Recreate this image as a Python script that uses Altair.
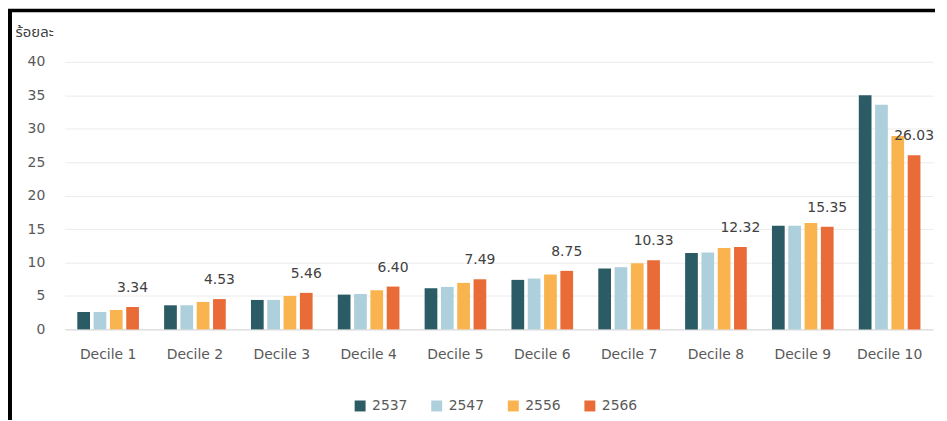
import altair as alt
import pandas as pd

deciles = ["Decile 1", "Decile 2", "Decile 3", "Decile 4", "Decile 5",
           "Decile 6", "Decile 7", "Decile 8", "Decile 9", "Decile 10"]
years = ["2537", "2547", "2556", "2566"]
v2537 = [2.6, 3.6, 4.4, 5.2, 6.15, 7.4, 9.1, 11.4, 15.5, 35.0]
v2547 = [2.6, 3.6, 4.4, 5.3, 6.35, 7.6, 9.3, 11.5, 15.5, 33.6]
v2556 = [2.9, 4.1, 5.0, 5.85, 6.95, 8.2, 9.9, 12.15, 15.9, 28.9]
v2566 = [3.34, 4.53, 5.46, 6.40, 7.49, 8.75, 10.33, 12.32, 15.35, 26.03]
colors = ["#2b5b64", "#aecfdc", "#f9b44f", "#e96b37"]

rows = []
for y, vals in zip(years, [v2537, v2547, v2556, v2566]):
    for d, v in zip(deciles, vals):
        rows.append({"decile": d, "year": y, "value": v,
                     "label": f"{v:.2f}" if y == "2566" else ""})
df = pd.DataFrame(rows)

FONT = "DejaVu Sans"
THAI = "Tahoma, 'Noto Sans Thai', 'Noto Sans Thai UI', Loma, Garuda, 'Noto Sans', sans-serif"

x_enc = alt.X("decile:N", sort=deciles, title=None,
              scale=alt.Scale(paddingInner=0.29, paddingOuter=0.145),
              axis=alt.Axis(labelAngle=0, ticks=False, tickSize=0, labelPadding=18,
                            labelFont=FONT, labelFontSize=14, labelColor="#595959",
                            domainColor="#d9d9d9", grid=False))
xo_enc = alt.XOffset("year:N", sort=years,
                     scale=alt.Scale(domain=years, paddingInner=0.22, paddingOuter=0))
y_enc = alt.Y("value:Q",
              scale=alt.Scale(domain=[0, 40], nice=False),
              axis=alt.Axis(values=[0, 5, 10, 15, 20, 25, 30, 35, 40],
                            domain=False, ticks=False, labelPadding=20,
                            labelFont=FONT, labelFontSize=14, labelColor="#595959",
                            gridColor="#ebebeb",
                            title="ร้อยละ", titleAngle=0, titleAlign="left",
                            titleBaseline="middle", titleX=-50, titleY=-30,
                            titleFont=THAI, titleFontSize=15, titleFontWeight="normal",
                            titleColor="#404040"))

bars = alt.Chart(df).mark_bar().encode(
    x=x_enc, xOffset=xo_enc, y=y_enc,
    color=alt.Color("year:N", sort=years,
                    scale=alt.Scale(domain=years, range=colors),
                    legend=alt.Legend(title=None, orient="none", direction="horizontal",
                                      legendX=290, legendY=339,
                                      symbolType="square", symbolSize=121,
                                      symbolStrokeWidth=0, labelFont=FONT,
                                      labelFontSize=14, labelColor="#595959",
                                      labelOffset=5, columnPadding=22)),
)

labels = alt.Chart(df).transform_filter(alt.datum.year == "2566").mark_text(
    baseline="alphabetic", dy=-15, font=FONT, fontSize=14, color="#404040"
).encode(x=x_enc, xOffset=xo_enc, y=y_enc, text="label:N")

frame_df = pd.DataFrame({"k": [0]})
top_rule = alt.Chart(frame_df).mark_rule(color="#000000", strokeWidth=3.5).encode(
    x=alt.value(-57), x2=alt.value(875), y=alt.value(-51.5))
left_rule = alt.Chart(frame_df).mark_rule(color="#000000", strokeWidth=4).encode(
    x=alt.value(-55), y=alt.value(-53), y2=alt.value(360))

chart = alt.layer(bars, labels, top_rule, left_rule).properties(
    width=873, height=269,
    autosize=alt.AutoSizeParams(type="none"),
    padding={"left": 57, "top": 53, "right": 6, "bottom": 90},
    background="#ffffff",
).configure_view(stroke=None)

chart.save("out.html", embed_options={"renderer": "svg", "actions": False})
